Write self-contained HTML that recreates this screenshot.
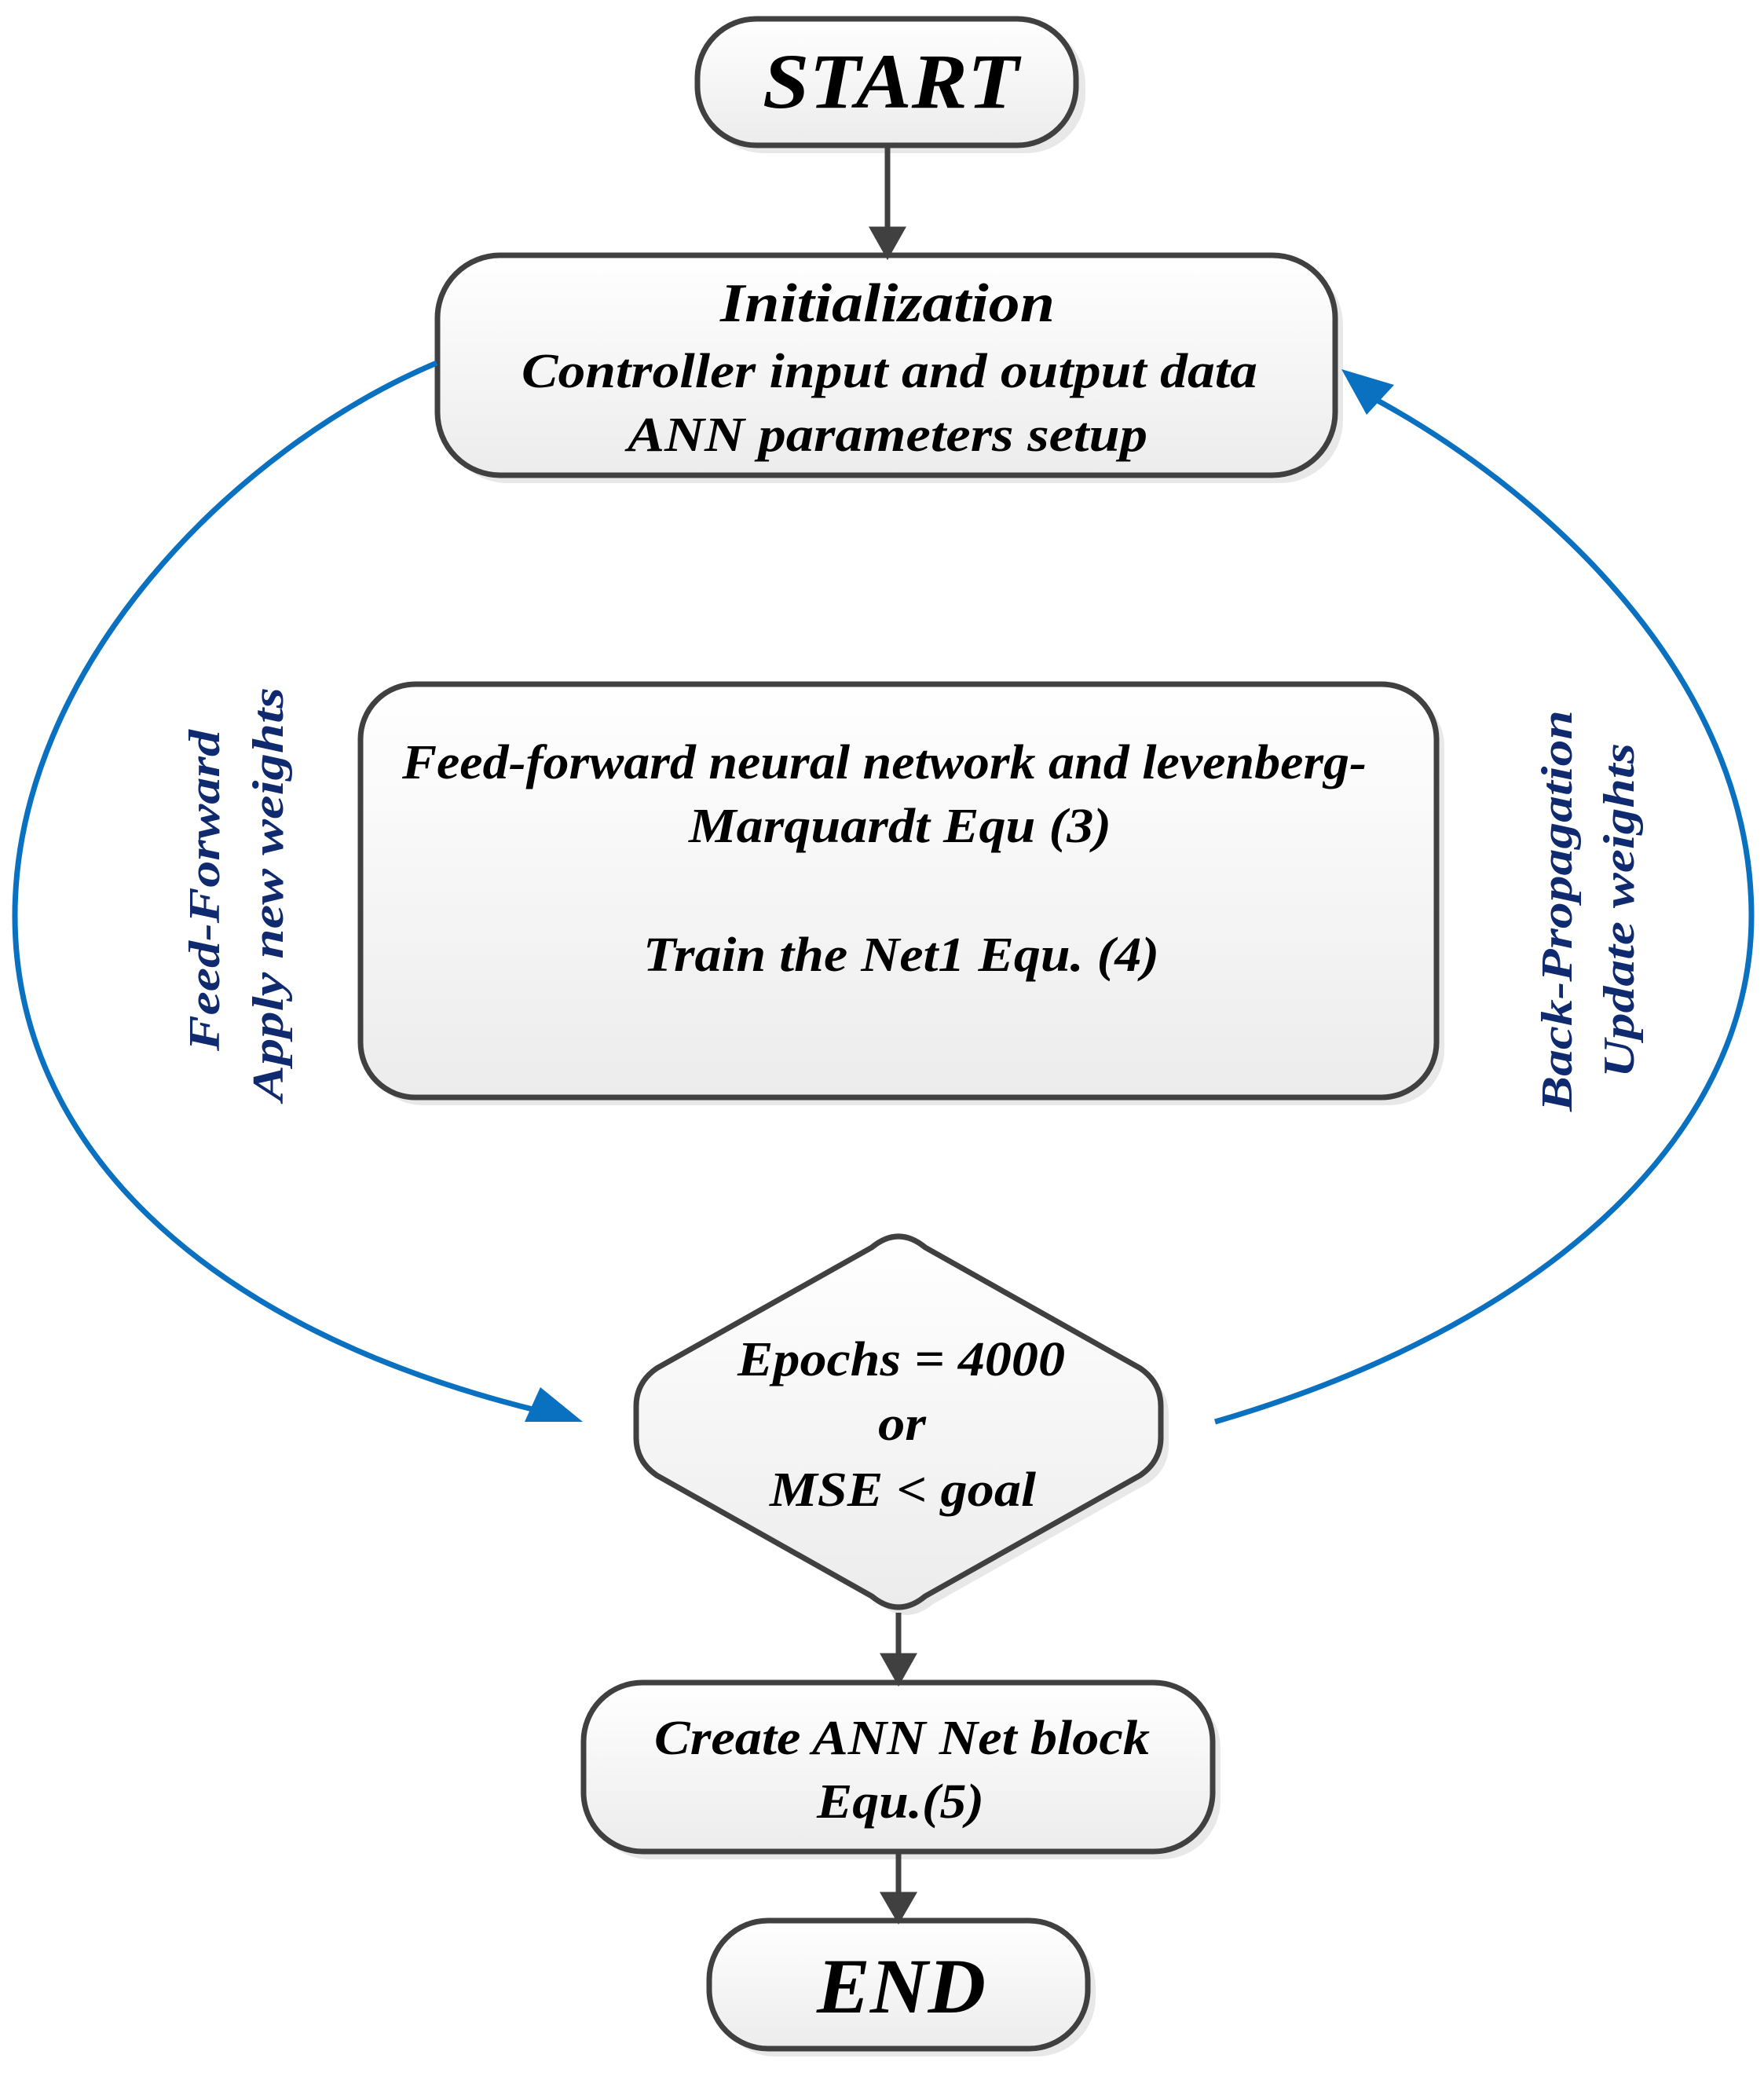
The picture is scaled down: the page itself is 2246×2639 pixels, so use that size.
<!DOCTYPE html>
<html><head><meta charset="utf-8"><style>
html,body{margin:0;padding:0;background:#fff}
svg{display:block}
text{font-family:"Liberation Serif",serif;font-weight:bold;font-style:italic;fill:#000}
</style></head><body>
<svg width="2246" height="2639" viewBox="0 0 2246 2639" xmlns="http://www.w3.org/2000/svg">
<defs>
<linearGradient id="g" x1="0" y1="0" x2="0" y2="1"><stop offset="0" stop-color="#ffffff"/><stop offset="1" stop-color="#ececec"/></linearGradient>
</defs>
<g fill="#d8d8d8" opacity="0.6">
<rect x="897" y="32" width="485" height="163" rx="75"/>
<rect x="566" y="334" width="1144" height="281" rx="80"/>
<rect x="468" y="880" width="1371" height="527" rx="70"/>
<rect x="752" y="2151" width="802" height="216" rx="75"/>
<rect x="912" y="2454" width="483" height="164" rx="75"/>
<path d="M1120,1598 Q1154,1570 1188,1598 L1462,1752 Q1488,1770 1488,1800 L1488,1840 Q1488,1870 1462,1888 L1188,2042 Q1154,2070 1120,2042 L846,1888 Q820,1870 820,1840 L820,1800 Q820,1770 846,1752 Z"/>
</g>
<g fill="url(#g)" stroke="#404040" stroke-width="7">
<rect x="888" y="24" width="482" height="161" rx="75"/>
<rect x="557" y="325" width="1143" height="280" rx="80"/>
<rect x="459" y="871" width="1370" height="526" rx="70"/>
<rect x="743" y="2142" width="801" height="215" rx="75"/>
<rect x="903" y="2445" width="482" height="163" rx="75"/>
<path d="M1110,1588 Q1144,1560 1178,1588 L1452,1742 Q1478,1760 1478,1790 L1478,1830 Q1478,1860 1452,1878 L1178,2032 Q1144,2060 1110,2032 L836,1878 Q810,1860 810,1830 L810,1790 Q810,1760 836,1742 Z"/>
</g>
<g stroke="#404040" stroke-width="7" fill="#404040">
<line x1="1130" y1="185" x2="1130" y2="300"/><path d="M1112,292 L1148,292 L1130,324 Z"/>
<line x1="1144" y1="2053" x2="1144" y2="2115"/><path d="M1126,2108 L1162,2108 L1144,2140 Z"/>
<line x1="1144" y1="2357" x2="1144" y2="2420"/><path d="M1126,2412 L1162,2412 L1144,2443 Z"/>
</g>
<g stroke="#0a70c0" stroke-width="7" fill="none">
<path d="M556,462 C300,570 19,850 19,1166 C19,1450 250,1690 690,1797"/>
<path d="M1547,1810 C1960,1690 2230,1450 2230,1166 C2230,860 1960,620 1745,505"/>
</g>
<g fill="#0a70c0">
<path d="M742,1810 L668,1810 L688,1766 Z"/>
<path d="M1708,470 L1775,490 L1740,528 Z"/>
</g>
<text x="971" y="137" font-size="100" textLength="326" lengthAdjust="spacingAndGlyphs">START</text>
<text x="917" y="409" font-size="70" textLength="426" lengthAdjust="spacingAndGlyphs">Initialization</text>
<text x="664" y="493" font-size="62" textLength="937" lengthAdjust="spacingAndGlyphs">Controller input  and output data</text>
<text x="799" y="574" font-size="62" textLength="662" lengthAdjust="spacingAndGlyphs">ANN  parameters setup</text>
<text x="512" y="991" font-size="62" textLength="1228" lengthAdjust="spacingAndGlyphs">Feed-forward neural network and levenberg-</text>
<text x="877" y="1072" font-size="62" textLength="538" lengthAdjust="spacingAndGlyphs">Marquardt Equ (3)</text>
<text x="819" y="1236" font-size="62" textLength="657" lengthAdjust="spacingAndGlyphs">Train the Net1 Equ. (4)</text>
<text x="939" y="1751" font-size="62" textLength="417" lengthAdjust="spacingAndGlyphs">Epochs = 4000</text>
<text x="1118" y="1833" font-size="62" textLength="61" lengthAdjust="spacingAndGlyphs">or</text>
<text x="980" y="1917" font-size="62" textLength="339" lengthAdjust="spacingAndGlyphs">MSE &lt; goal</text>
<text x="833" y="2233" font-size="62" textLength="631" lengthAdjust="spacingAndGlyphs">Create ANN Net block</text>
<text x="1040" y="2314" font-size="62" textLength="213" lengthAdjust="spacingAndGlyphs">Equ.(5)</text>
<text x="1040" y="2562" font-size="100" textLength="215" lengthAdjust="spacingAndGlyphs">END</text>
<text transform="translate(279,1338) rotate(-90)" font-size="56" textLength="409" lengthAdjust="spacingAndGlyphs" style="fill:#0f2a6e">Feed-Forward</text>
<text transform="translate(360,1402) rotate(-90)" font-size="56" textLength="527" lengthAdjust="spacingAndGlyphs" style="fill:#0f2a6e">Apply new weights</text>
<text transform="translate(2001,1415) rotate(-90)" font-size="56" textLength="511" lengthAdjust="spacingAndGlyphs" style="fill:#0f2a6e">Back-Propagation</text>
<text transform="translate(2080,1372) rotate(-90)" font-size="56" textLength="426" lengthAdjust="spacingAndGlyphs" style="fill:#0f2a6e">Update weights</text>
</svg>
</body></html>
